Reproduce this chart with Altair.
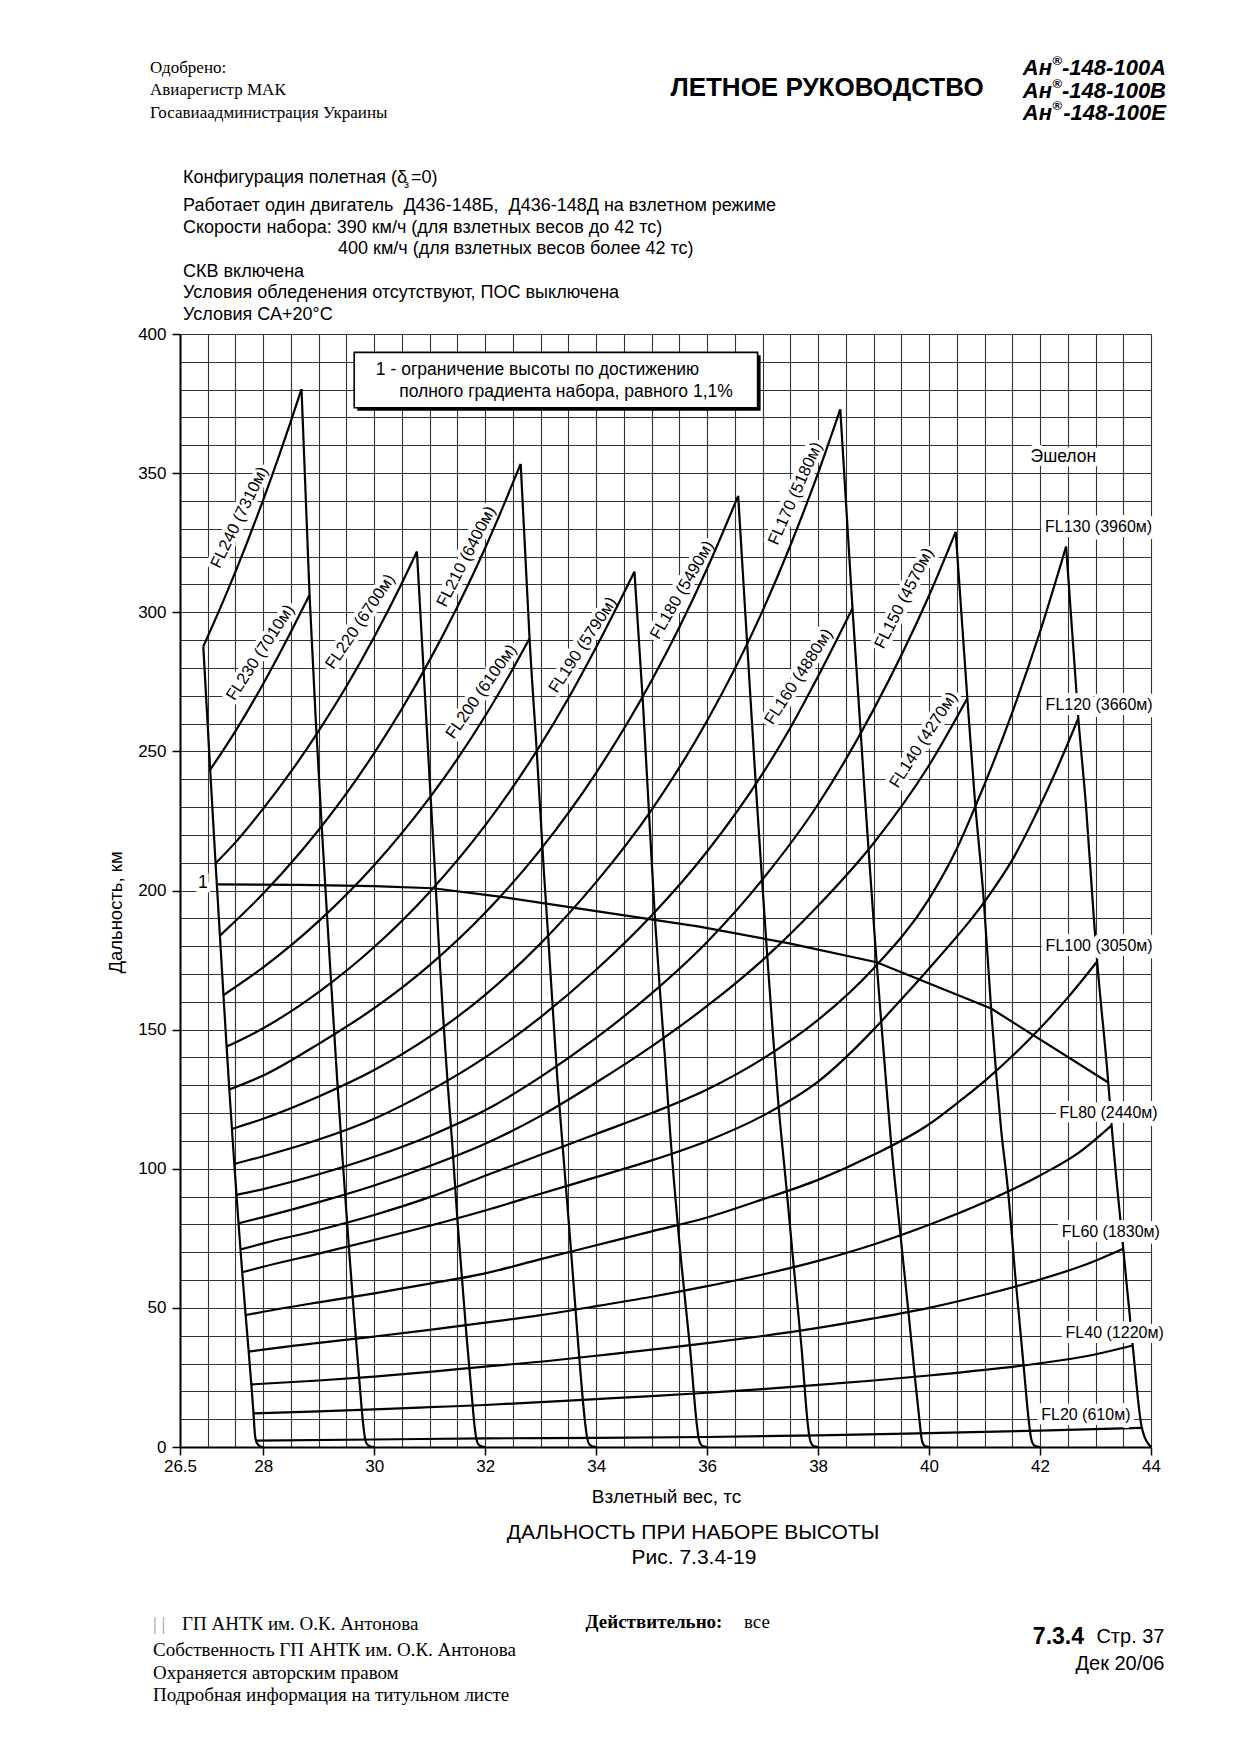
import altair as alt
import pandas as pd

# ---------------- values ----------------
# flight-level curves: (take-off weight, tf ; distance, km)
FL240 = [(26.92, 287.7), (27.30, 305.0), (27.70, 324.6), (28.00, 340.4), (28.30, 357.1), (28.50, 368.8), (28.69, 380.2)]
FL230 = [(27.044, 243.4), (27.50, 257.3), (28.00, 274.3), (28.50, 293.0), (28.835, 306.2)]
FL220 = [(27.141, 209.8), (27.50, 217.3), (28.00, 229.4), (28.50, 242.7), (29.00, 257.4), (29.50, 273.4), (30.00, 291.1), (30.50, 310.5), (30.77, 321.8)]
FL210 = [(27.219, 183.8), (28.00, 198.9), (28.65, 213.3), (29.00, 221.8), (29.50, 234.9), (30.00, 249.4), (30.50, 265.3), (31.00, 282.8), (31.50, 302.0), (32.00, 323.1), (32.30, 336.9), (32.64, 353.3)]
FL200 = [(27.283, 162.4), (28.00, 172.4), (29.00, 189.0), (30.00, 209.1), (31.00, 233.4), (31.50, 247.3), (32.00, 262.7), (32.50, 279.7), (32.80, 290.6)]
FL190 = [(27.34, 143.9), (28.00, 150.5), (29.00, 163.5), (30.00, 179.7), (31.00, 199.5), (32.00, 223.4), (33.00, 252.4), (33.50, 269.1), (34.00, 287.4), (34.69, 314.6)]
FL180 = [(27.389, 128.5), (28.00, 133.5), (29.00, 144.9), (30.00, 157.7), (31.00, 173.2), (32.00, 192.0), (33.00, 214.8), (34.00, 242.3), (35.00, 275.5), (35.50, 294.6), (36.00, 315.7), (36.56, 341.8)]
FL170 = [(27.436, 114.3), (28.00, 118.0), (29.00, 126.0), (30.00, 135.5), (31.00, 147.5), (32.00, 162.5), (33.00, 181.0), (34.00, 203.0), (35.00, 229.0), (36.00, 261.0), (37.00, 300.5), (37.50, 324.0), (38.00, 350.0), (38.40, 372.9)]
FL160 = [(27.479, 101.7), (28.00, 104.5), (29.00, 110.5), (30.00, 118.0), (31.00, 128.0), (32.00, 140.0), (33.00, 154.5), (34.00, 171.5), (35.00, 191.0), (36.00, 214.0), (37.00, 242.0), (37.50, 258.5), (38.00, 277.0), (38.62, 301.4)]
FL150 = [(27.518, 90.6), (28.00, 92.7), (29.00, 98.0), (30.00, 104.3), (31.00, 111.8), (32.00, 121.0), (33.00, 133.0), (34.00, 147.0), (35.00, 163.0), (36.00, 181.5), (37.00, 204.0), (38.00, 231.0), (39.00, 265.0), (40.00, 306.0), (40.48, 328.9)]
FL140 = [(27.555, 80.4), (28.00, 82.6), (29.00, 88.0), (30.00, 94.0), (31.00, 101.0), (32.00, 109.0), (33.00, 119.0), (34.00, 131.0), (35.00, 144.0), (36.00, 158.5), (37.00, 175.0), (38.00, 194.5), (39.00, 217.0), (40.00, 245.0), (40.69, 269.1)]
FL130 = [(27.59, 71.0), (28.00, 73.2), (29.00, 78.0), (30.00, 83.4), (31.00, 89.8), (32.00, 97.5), (33.00, 105.0), (34.00, 112.5), (35.00, 120.0), (36.00, 128.5), (37.00, 139.5), (38.00, 153.5), (39.00, 172.0), (40.00, 197.0), (40.50, 215.0), (40.83, 230.0), (41.50, 264.0), (42.00, 293.0), (42.47, 323.6)]
FL120 = [(27.621, 62.8), (28.00, 64.8), (29.00, 69.5), (30.00, 74.4), (31.00, 79.5), (32.00, 85.0), (33.00, 91.0), (34.00, 97.0), (35.00, 103.0), (36.00, 110.0), (37.00, 119.0), (38.00, 131.3), (39.00, 150.0), (39.46, 160.0), (40.00, 172.0), (41.00, 196.0), (41.50, 211.0), (42.00, 230.5), (42.30, 243.5), (42.69, 261.9)]
FL100 = [(27.683, 47.4), (28.00, 48.6), (29.00, 52.0), (30.00, 55.2), (31.00, 58.7), (32.00, 62.4), (33.00, 67.5), (34.00, 72.5), (35.00, 77.5), (36.00, 82.5), (37.00, 89.0), (38.00, 96.0), (39.00, 105.0), (40.00, 116.0), (40.50, 123.5), (41.00, 131.5), (41.50, 140.5), (42.00, 150.5), (42.50, 161.5), (43.03, 174.5)]
FL80 = [(27.738, 34.3), (28.00, 35.0), (29.00, 37.4), (30.00, 39.7), (31.00, 42.1), (32.00, 44.7), (33.00, 47.4), (34.00, 50.6), (35.00, 54.0), (36.00, 57.8), (37.00, 62.0), (38.00, 66.9), (39.00, 72.8), (40.00, 79.9), (41.00, 88.0), (42.00, 97.6), (42.70, 105.8), (43.29, 115.6)]
FL60 = [(27.785, 22.5), (29.00, 23.9), (30.00, 25.3), (31.00, 27.0), (32.00, 28.9), (33.17, 31.0), (34.00, 32.8), (35.00, 35.0), (36.00, 37.3), (37.00, 39.9), (38.00, 42.8), (39.00, 46.2), (40.00, 50.0), (41.00, 54.7), (42.00, 60.2), (42.80, 65.4), (43.50, 71.3)]
FL40 = [(27.825, 12.1), (29.00, 12.8), (30.00, 13.5), (31.00, 14.3), (32.00, 15.1), (33.17, 16.3), (34.00, 17.2), (35.00, 18.3), (36.00, 19.5), (37.00, 20.8), (38.00, 22.3), (39.00, 23.9), (40.00, 25.7), (41.00, 27.7), (42.00, 30.1), (42.90, 32.9), (43.67, 36.5)]
FL20 = [(27.868, 2.3), (30.00, 2.7), (32.00, 3.1), (34.00, 3.3), (36.00, 3.6), (38.00, 4.2), (40.00, 5.0), (42.00, 5.9), (43.835, 6.9)]

# steep guide lines ending at 28, 30, ... 44 tf
LINE_28 = [(26.92, 287.7), (27.044, 243.4), (27.141, 209.8), (27.164, 202.2), (27.219, 183.8), (27.283, 162.4), (27.34, 143.9), (27.389, 128.5), (27.436, 114.3), (27.479, 101.7), (27.518, 90.6), (27.555, 80.4), (27.59, 71.0), (27.621, 62.8), (27.683, 47.4), (27.738, 34.3), (27.785, 22.5), (27.825, 12.1), (27.848, 5.0), (27.868, 2.3), (27.91, 0.8), (27.95, 0.15), (28.0, 0.0)]
LINE_30 = [(28.69, 380.2), (28.835, 306.2), (28.95, 260.1), (29.058, 221.7), (29.177, 182.2), (29.333, 131.9), (29.427, 104.3), (29.543, 72.0), (29.634, 48.0), (29.722, 26.5), (29.806, 7.3), (29.835, 3.0), (29.87, 1.0), (29.92, 0.25), (30.0, 0.0)]
LINE_32 = [(30.77, 321.8), (30.90, 275.7), (31.01, 236.0), (31.10, 205.0), (31.16, 182.2), (31.32, 131.9), (31.41, 107.9), (31.50, 81.6), (31.58, 61.2), (31.66, 40.9), (31.75, 20.5), (31.81, 7.3), (31.84, 3.0), (31.875, 1.0), (31.925, 0.25), (32.0, 0.0)]
LINE_34 = [(32.64, 353.3), (32.72, 322.0), (32.80, 290.6), (32.93, 249.9), (33.06, 206.2), (33.14, 182.2), (33.30, 132.5), (33.395, 108.4), (33.55, 69.9), (33.68, 36.1), (33.81, 7.2), (33.84, 3.0), (33.875, 1.0), (33.925, 0.25), (34.0, 0.0)]
LINE_36 = [(34.69, 314.6), (34.84, 268.5), (34.93, 236.1), (35.06, 190.0), (35.15, 164.0), (35.24, 140.0), (35.33, 114.0), (35.54, 65.1), (35.69, 36.1), (35.82, 7.2), (35.85, 3.0), (35.885, 1.0), (35.93, 0.25), (36.0, 0.0)]
LINE_38 = [(36.56, 341.8), (36.725, 287.6), (36.89, 234.0), (36.99, 203.8), (37.085, 176.2), (37.18, 149.9), (37.29, 122.0), (37.42, 95.2), (37.56, 65.1), (37.70, 36.1), (37.82, 7.2), (37.85, 3.0), (37.885, 1.0), (37.93, 0.25), (38.0, 0.0)]
LINE_40 = [(38.40, 372.9), (38.62, 301.4), (38.84, 235.0), (38.91, 214.6), (39.025, 182.2), (39.13, 154.7), (39.25, 125.0), (39.31, 110.8), (39.48, 77.1), (39.63, 48.2), (39.75, 24.1), (39.84, 7.2), (39.865, 3.0), (39.895, 1.0), (39.935, 0.25), (40.0, 0.0)]
LINE_42 = [(40.48, 328.9), (40.69, 269.1), (40.82, 234.0), (40.99, 195.4), (41.12, 157.0), (41.21, 134.0), (41.30, 113.9), (41.42, 92.8), (41.56, 60.2), (41.70, 30.1), (41.81, 7.2), (41.84, 3.0), (41.875, 1.0), (41.925, 0.25), (42.0, 0.0)]
LINE_44 = [(42.47, 323.6), (42.69, 261.9), (42.83, 230.0), (42.97, 190.0), (43.03, 174.5), (43.23, 131.0), (43.29, 115.6), (43.50, 71.3), (43.67, 36.5), (43.835, 6.9), (44.0, 0.0)]

# curve "1": altitude limit by full climb gradient 1.1 %
CURVE_1 = [(27.164, 202.2), (28.65, 202.0), (30.00, 201.6), (31.06, 200.8), (32.26, 197.8), (33.46, 194.2), (34.66, 190.6), (35.86, 187.0), (37.48, 181.0), (39.055, 174.2), (41.118, 157.6), (43.23, 131.0)]

# labels written along the curves
ROT_TEXT = ["FL240 (7310м)", "FL230 (7010м)", "FL220 (6700м)", "FL210 (6400м)", "FL200 (6100м)", "FL190 (5790м)",
            "FL180 (5490м)", "FL170 (5180м)", "FL160 (4880м)", "FL150 (4570м)", "FL140 (4270м)"]
ROT_X = [27.57, 27.95, 29.75, 31.66, 31.93, 33.76, 35.55, 37.59, 37.65, 39.55, 39.90]
ROT_Y = [334.1, 285.5, 296.6, 320.0, 271.5, 288.2, 308.0, 342.7, 276.8, 305.0, 254.1]
ROT_ANGLE = [296, 303, 304, 297, 305, 303, 300, 294, 303, 297, 303]

# labels at the right side
RIGHT_TEXT = ["FL130 (3960м)", "FL120 (3660м)", "FL100 (3050м)", "FL80 (2440м)", "FL60 (1830м)", "FL40 (1220м)", "FL20 (610м)"]
RIGHT_X = [44.02, 44.03, 44.03, 44.12, 44.16, 44.23, 43.63]
RIGHT_Y = [330.8, 266.7, 180.0, 119.9, 77.2, 40.9, 11.5]

# ---------------- tables ----------------
SERIES = {
    "FL240": FL240, "FL230": FL230, "FL220": FL220, "FL210": FL210, "FL200": FL200, "FL190": FL190,
    "FL180": FL180, "FL170": FL170, "FL160": FL160, "FL150": FL150, "FL140": FL140, "FL130": FL130,
    "FL120": FL120, "FL100": FL100, "FL80": FL80, "FL60": FL60, "FL40": FL40, "FL20": FL20,
    "L28": LINE_28, "L30": LINE_30, "L32": LINE_32, "L34": LINE_34, "L36": LINE_36, "L38": LINE_38,
    "L40": LINE_40, "L42": LINE_42, "L44": LINE_44,
}
rows = []
for name, pts in SERIES.items():
    for i, (xv, yv) in enumerate(pts):
        rows.append({"series": name, "i": i, "x": xv, "y": yv})
curves_df = pd.DataFrame(rows)
c1_df = pd.DataFrame([{"i": i, "x": xv, "y": yv} for i, (xv, yv) in enumerate(CURVE_1)])
rot_df = pd.DataFrame({"t": ROT_TEXT, "x": ROT_X, "y": ROT_Y, "a": ROT_ANGLE})
right_df = pd.DataFrame({"t": RIGHT_TEXT, "x": RIGHT_X, "y": RIGHT_Y})
misc_df = pd.DataFrame({"t": ["Эшелон", "1"], "x": [42.42, 26.91], "y": [355.9, 202.8]})
box_df = pd.DataFrame({"x": [29.64], "x2": [36.91], "y": [373.5], "y2": [393.4]})
note_df = pd.DataFrame({"t": ["1 - ограничение высоты по достижению", "полного градиента набора, равного 1,1%"],
                        "x": [30.03, 30.45], "y": [387.1, 379.3]})

SANS = "Liberation Sans"
SERIF = "Liberation Serif"
GRID = "#333333"
PADL, PADT = 180, 334
W, H = 971, 1113

XS = alt.Scale(domain=[26.5, 44], nice=False, zero=False)
YS = alt.Scale(domain=[0, 400], nice=False, zero=False)

X_GRID = [26.5 + 0.5 * k for k in range(36)]
Y_GRID = list(range(0, 401, 10))
X_MAJOR = "[26.5,28,30,32,34,36,38,40,42,44]"

X_AXIS = alt.Axis(
    values=X_GRID, grid=True, gridColor=GRID, gridWidth=1.1, gridOpacity=1,
    domainColor="black", domainWidth=2, tickColor="black", tickWidth=1.5, tickSize=8,
    tickOpacity={"condition": {"test": f"indexof({X_MAJOR}, datum.value) >= 0", "value": 1}, "value": 0},
    format=".1~f", labelExpr=f"indexof({X_MAJOR}, datum.value) >= 0 ? datum.label : ''",
    labelFont=SANS, labelFontSize=17, labelColor="black", labelPadding=3, labelOverlap=False, labelFlush=False,
    title="Взлетный вес, тс", titleFont=SANS, titleFontSize=19, titleFontWeight="normal", titleColor="black",
    titleX=486, titleY=49, titleAlign="center", titleBaseline="middle",
)
Y_AXIS = alt.Axis(
    values=Y_GRID, grid=True, gridColor=GRID, gridWidth=1.1, gridOpacity=1,
    domainColor="black", domainWidth=2, tickColor="black", tickWidth=1.5, tickSize=8,
    tickOpacity={"condition": {"test": "datum.value % 50 === 0", "value": 1}, "value": 0},
    format="d", labelExpr="datum.value % 50 === 0 ? datum.label : ''",
    labelFont=SANS, labelFontSize=17, labelColor="black", labelPadding=6, labelOverlap=False, labelFlush=False,
    title="Дальность, км", titleFont=SANS, titleFontSize=18.5, titleFontWeight="normal", titleColor="black",
    titleX=-65, titleY=578, titleAngle=270, titleAlign="center", titleBaseline="middle",
)


def X(field="x"):
    return alt.X(f"{field}:Q", scale=XS, axis=X_AXIS)


def Y(field="y"):
    return alt.Y(f"{field}:Q", scale=YS, axis=Y_AXIS)


curves = alt.Chart(curves_df).mark_line(interpolate="monotone", color="black", strokeWidth=2.2).encode(
    x=X(), y=Y(), detail="series:N", order="i:Q")
curve1 = alt.Chart(c1_df).mark_line(color="black", strokeWidth=2.2).encode(x=X(), y=Y(), order="i:Q")


def data_text(df, size, halo, align="center", angle=True, hw=6):
    kw = dict(font=SANS, fontSize=size, align=align, baseline="middle")
    if halo:
        kw.update(color="white", stroke="white", strokeWidth=hw, strokeJoin="round")
    else:
        kw.update(color="black")
    enc = dict(x=X(), y=Y(), text="t:N")
    if angle:
        enc["angle"] = alt.Angle("a:Q", scale=None)
    return alt.Chart(df).mark_text(**kw).encode(**enc)


rot_halo = data_text(rot_df, 16.5, True, hw=8)
rot_txt = data_text(rot_df, 16.5, False)
right_halo = data_text(right_df, 16, True, align="right", angle=False, hw=10)
right_txt = data_text(right_df, 16, False, align="right", angle=False)
misc_halo = data_text(misc_df, 17.5, True, angle=False, hw=9)
misc_txt = data_text(misc_df, 17.5, False, angle=False)

box_shadow = alt.Chart(box_df).mark_rect(color="black", xOffset=3, x2Offset=3, yOffset=3, y2Offset=3).encode(
    x=X(), x2="x2:Q", y=Y(), y2="y2:Q")
box = alt.Chart(box_df).mark_rect(color="white", stroke="black", strokeWidth=1.6).encode(
    x=X(), x2="x2:Q", y=Y(), y2="y2:Q")
note_txt = alt.Chart(note_df).mark_text(font=SANS, fontSize=17.5, color="black", align="left",
                                        baseline="middle").encode(x=X(), y=Y(), text="t:N")


def page_text(txt, px, py, size, font=SANS, weight="normal", style="normal", align="left", color="black"):
    return alt.Chart(pd.DataFrame({"t": [txt]})).mark_text(
        font=font, fontSize=size, fontWeight=weight, fontStyle=style, align=align, baseline="middle", color=color
    ).encode(x=alt.value(px - PADL), y=alt.value(py - PADT), text="t:N")


NB = "\u00a0"
page = [
    page_text("Одобрено:", 150, 68, 17, SERIF),
    page_text("Авиарегистр МАК", 150, 90, 17, SERIF),
    page_text("Госавиаадминистрация Украины", 150, 113, 17, SERIF),
    page_text("ЛЕТНОЕ РУКОВОДСТВО", 827, 88, 26, SANS, "bold", align="center"),
]
for yy, suffix in [(68, "А"), (90.5, "В"), (113, "Е")]:
    page += [
        page_text("-148-100" + suffix, 1166, yy, 22, SANS, "bold", "italic", align="right"),
        page_text("®", 1062, yy - 7, 13, SANS, "bold", align="right"),
        page_text("Ан", 1052, yy, 22, SANS, "bold", "italic", align="right"),
    ]
page += [
    page_text("Конфигурация полетная (δ", 183, 178, 18),
    page_text("з", 404, 185, 11),
    page_text("=0)", 411, 178, 18),
    page_text(f"Работает один двигатель{NB} Д436-148Б,{NB} Д436-148Д на взлетном режиме", 183, 205.5, 18),
    page_text("Скорости набора: 390 км/ч (для взлетных весов до 42 тс)", 183, 227.5, 18),
    page_text("400 км/ч (для взлетных весов более 42 тс)", 338, 248.5, 18),
    page_text("СКВ включена", 183, 271.5, 18),
    page_text("Условия обледенения отсутствуют, ПОС выключена", 183, 293.3, 18),
    page_text("Условия СА+20°С", 183, 315, 18),
    page_text("ДАЛЬНОСТЬ ПРИ НАБОРЕ ВЫСОТЫ", 693, 1533, 21, align="center"),
    page_text("Рис. 7.3.4-19", 694, 1558, 21, align="center"),
    page_text(f"|{NB}|", 153, 1624, 19, SERIF, color="#9a9a9a"),
    page_text("ГП АНТК им. О.К. Антонова", 182, 1624, 19, SERIF),
    page_text("Собственность ГП АНТК им. О.К. Антонова", 153, 1650, 19, SERIF),
    page_text("Охраняется авторским правом", 153, 1673, 19, SERIF),
    page_text("Подробная информация на титульном листе", 153, 1695, 19, SERIF),
    page_text("Действительно:", 585.5, 1622, 19, SERIF, "bold"),
    page_text("все", 744, 1622, 19, SERIF),
    page_text("7.3.4", 1084, 1637, 23, SANS, "bold", align="right"),
    page_text("Стр. 37", 1164.5, 1637, 20, SANS, align="right"),
    page_text("Дек 20/06", 1164.5, 1664, 20, SANS, align="right"),
]

chart = alt.layer(
    rot_halo, curves, curve1, right_halo, misc_halo, rot_txt, right_txt, misc_txt,
    box_shadow, box, note_txt, *page
).properties(
    width=W, height=H,
    padding={"left": PADL, "top": PADT, "right": 1240 - PADL - W, "bottom": 1755 - PADT - H},
    autosize=alt.AutoSizeParams(type="none"),
).configure_view(stroke=None).configure(background="white")

chart.save("out.html", embed_options={"renderer": "svg", "actions": False})
